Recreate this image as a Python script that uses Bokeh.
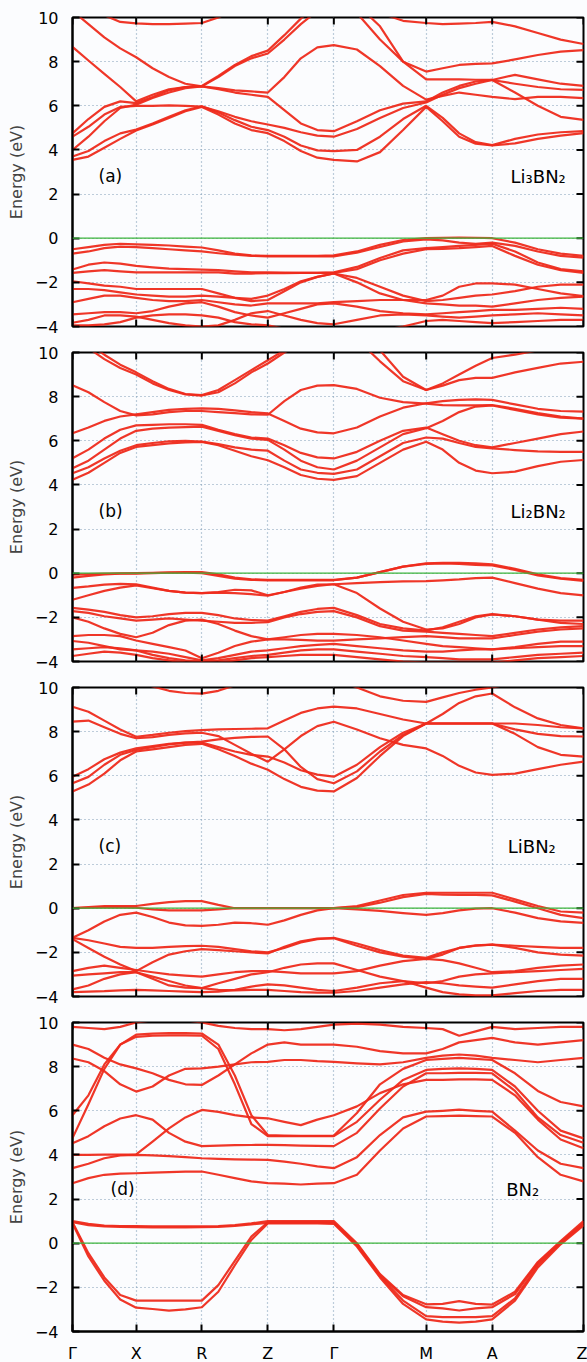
from bokeh.plotting import figure
from bokeh.models import FixedTicker, Span
from bokeh.layouts import column
from bokeh.core.properties import value
from bokeh.embed import file_html
from bokeh.resources import INLINE

# ---------------- data ----------------
K_TICKS = [0, 191, 388, 586, 784, 1061, 1259, 1533]
K_LABELS = ["Γ", "X", "R", "Z", "Γ", "M", "A", "Z"]
E_TICKS = [-4, -2, 0, 2, 4, 6, 8, 10]

# energies (eV) read at the quarter points of every path segment (29 points)
LI3BN2_BANDS = [
    [3.55,3.7,4.1,4.5,4.88, 5.15,5.45,5.75,5.95, 5.6,5.2,4.9,4.76, 4.4,3.95,3.65,3.55, 3.48,3.9,4.9,5.95, 5.3,4.6,4.28,4.2, 4.3,4.5,4.65,4.76],
    [3.7,3.95,4.4,4.75,4.92, 5.2,5.5,5.8,5.98, 5.7,5.35,5.05,4.9, 4.6,4.2,3.98,3.95, 4.0,4.6,5.4,6.0, 5.45,4.75,4.35,4.22, 4.5,4.7,4.8,4.85],
    [4.6,5.05,5.6,5.95,6.0, 6.0,6.02,6.0,5.96, 5.75,5.5,5.3,5.15, 5.0,4.8,4.65,4.6, 4.95,5.45,5.9,6.15, 6.5,6.8,7.0,7.17, 6.6,6.0,5.5,5.36],
    [4.75,5.4,5.95,6.2,6.12, 6.4,6.7,6.85,6.88, 7.3,7.8,8.15,8.37, 9.0,9.7,10.3,10.6, 10.2,9.0,8.0,7.55, 7.7,7.85,7.9,7.92, 8.1,8.3,8.45,8.52],
    [8.67,8.05,7.45,6.85,6.2, 6.5,6.75,6.85,6.9, 7.35,7.85,8.25,8.5, 9.2,9.95,10.6,10.9, 10.6,9.6,8.0,7.2, 7.2,7.2,7.18,7.17, 7.0,6.85,6.75,6.72],
    [10.3,9.7,9.1,8.6,8.2, 7.7,7.3,7.0,6.88, 6.8,6.7,6.65,6.6, 7.3,8.15,8.65,8.75, 8.55,7.8,6.9,6.28, 6.45,6.6,6.5,6.4, 6.3,6.4,6.4,6.35],
    [4.0,4.6,5.3,5.9,6.05, 6.35,6.6,6.8,6.88, 6.75,6.6,6.5,6.4, 5.8,5.2,4.9,4.85, 5.3,5.8,6.1,6.2, 6.6,6.9,7.1,7.17, 7.4,7.2,7.0,6.9],
    [11.0,10.6,10.1,9.8,9.73, 9.7,9.7,9.72,9.75, 10.0,10.4,10.8,11.0, 11.0,11.0,11.0,11.0, 10.7,10.2,9.85,9.75, 9.7,9.72,9.75,9.8, 9.6,9.3,9.0,8.8],
    [-0.5,-0.4,-0.3,-0.25,-0.28, -0.3,-0.33,-0.38,-0.42, -0.55,-0.7,-0.78,-0.8, -0.8,-0.8,-0.8,-0.78, -0.6,-0.3,-0.08,0.0, 0.02,0.03,0.02,0.0, -0.2,-0.5,-0.7,-0.8],
    [-0.7,-0.6,-0.45,-0.38,-0.4, -0.45,-0.5,-0.55,-0.6, -0.68,-0.75,-0.8,-0.82, -0.82,-0.82,-0.82,-0.82, -0.65,-0.4,-0.15,-0.05, -0.1,-0.2,-0.25,-0.2, -0.35,-0.6,-0.8,-0.88],
    [-1.42,-1.2,-1.1,-1.15,-1.25, -1.32,-1.38,-1.4,-1.42, -1.45,-1.5,-1.55,-1.55, -1.56,-1.57,-1.57,-1.55, -1.3,-0.9,-0.55,-0.45, -0.4,-0.35,-0.3,-0.25, -0.6,-1.1,-1.4,-1.5],
    [-1.57,-1.5,-1.45,-1.5,-1.55, -1.55,-1.55,-1.55,-1.55, -1.55,-1.6,-1.6,-1.58, -1.58,-1.57,-1.57,-1.57, -1.4,-1.0,-0.7,-0.5, -0.48,-0.45,-0.4,-0.35, -0.8,-1.2,-1.45,-1.57],
    [-1.95,-2.05,-2.15,-2.2,-2.3, -2.3,-2.3,-2.3,-2.3, -2.5,-2.7,-2.85,-2.8, -2.4,-2.0,-1.75,-1.6, -1.8,-2.2,-2.6,-2.85, -2.8,-2.7,-2.6,-2.55, -2.4,-2.2,-2.1,-2.1],
    [-2.3,-2.3,-2.35,-2.45,-2.55, -2.6,-2.65,-2.65,-2.6, -2.65,-2.7,-2.75,-2.6, -2.3,-1.95,-1.75,-1.6, -2.0,-2.5,-2.8,-2.95, -3.0,-3.05,-3.05,-3.1, -2.95,-2.8,-2.7,-2.65],
    [-2.9,-2.75,-2.6,-2.6,-2.7, -2.8,-2.85,-2.85,-2.8, -2.9,-3.0,-3.05,-2.95, -2.95,-2.95,-2.95,-2.9, -2.85,-2.8,-2.8,-2.8, -2.6,-2.2,-2.05,-2.05, -2.1,-2.3,-2.5,-2.62],
    [-3.45,-3.4,-3.35,-3.35,-3.4, -3.3,-3.1,-2.95,-2.9, -3.1,-3.35,-3.5,-3.6, -3.4,-3.2,-3.0,-2.95, -3.1,-3.3,-3.4,-3.45, -3.4,-3.35,-3.3,-3.25, -3.25,-3.2,-3.15,-3.2],
    [-3.83,-3.7,-3.5,-3.5,-3.55, -3.7,-3.85,-3.95,-4.0, -3.95,-3.7,-3.4,-3.3, -3.5,-3.7,-3.85,-3.9, -3.7,-3.5,-3.45,-3.5, -3.55,-3.6,-3.55,-3.5, -3.45,-3.4,-3.45,-3.5],
    [-3.95,-3.95,-3.9,-3.8,-3.6, -3.5,-3.45,-3.45,-3.5, -3.6,-3.8,-3.9,-3.95, -4.1,-4.2,-4.2,-4.2, -4.2,-4.2,-4.0,-3.75, -3.7,-3.75,-3.8,-3.85, -3.8,-3.75,-3.7,-3.7],
]

LI2BN2_BANDS = [
    [4.23,4.55,5.0,5.45,5.72, 5.8,5.88,5.93,5.95, 5.8,5.55,5.3,5.12, 4.8,4.45,4.28,4.23, 4.4,5.0,5.6,5.96, 5.6,5.0,4.65,4.53, 4.6,4.85,5.05,5.13],
    [4.53,4.8,5.2,5.55,5.8, 5.9,5.98,6.0,5.96, 5.85,5.7,5.6,5.55, 5.1,4.7,4.55,4.5, 4.7,5.3,5.9,6.15, 6.1,5.9,5.72,5.66, 5.58,5.52,5.5,5.5],
    [4.76,5.1,5.6,6.1,6.45, 6.55,6.6,6.62,6.64, 6.45,6.25,6.1,6.04, 5.6,5.1,4.8,4.7, 5.1,5.7,6.3,6.57, 6.9,7.3,7.55,7.6, 7.4,7.2,7.05,7.0],
    [5.21,5.6,6.1,6.5,6.7, 6.72,6.75,6.75,6.72, 6.5,6.3,6.15,6.1, 5.8,5.45,5.25,5.2, 5.5,6.0,6.45,6.6, 6.3,6.0,5.8,5.7, 5.9,6.1,6.3,6.42],
    [6.34,6.6,6.9,7.1,7.2, 7.3,7.4,7.45,7.47, 7.45,7.38,7.3,7.24, 6.9,6.55,6.38,6.34, 6.6,7.1,7.5,7.7, 7.8,7.85,7.88,7.85, 7.65,7.45,7.35,7.32],
    [8.52,8.2,7.75,7.35,7.15, 7.2,7.3,7.35,7.35, 7.3,7.25,7.2,7.18, 7.8,8.3,8.5,8.52, 8.35,7.95,7.75,7.68, 7.62,7.6,7.6,7.62, 7.45,7.25,7.1,7.0],
    [10.6,10.2,9.7,9.3,9.0, 8.6,8.3,8.1,8.05, 8.2,8.6,9.1,9.5, 10.0,10.4,10.7,10.8, 10.6,9.6,8.7,8.3, 8.5,8.75,8.85,8.85, 9.1,9.3,9.5,9.58],
    [10.8,10.4,9.9,9.45,9.1, 8.7,8.35,8.12,8.07, 8.3,8.75,9.2,9.65, 10.1,10.5,10.8,10.9, 10.8,10.1,8.9,8.3, 8.6,9.0,9.4,9.75, 9.9,10.1,10.3,10.4],
    [-0.06,-0.04,-0.02,-0.01,0.0, 0.02,0.04,0.05,0.05, -0.05,-0.2,-0.28,-0.3, -0.3,-0.3,-0.3,-0.3, -0.2,0.05,0.3,0.45, 0.47,0.47,0.45,0.4, 0.2,-0.05,-0.22,-0.3],
    [-0.2,-0.12,-0.05,-0.02,-0.02, 0.0,0.02,0.02,0.0, -0.12,-0.25,-0.3,-0.32, -0.32,-0.32,-0.32,-0.32, -0.2,0.05,0.3,0.42, 0.44,0.42,0.38,0.35, 0.15,-0.1,-0.25,-0.35],
    [-0.66,-0.6,-0.52,-0.48,-0.5, -0.65,-0.8,-0.88,-0.9, -0.85,-0.75,-0.78,-1.0, -0.85,-0.65,-0.52,-0.5, -0.45,-0.4,-0.37,-0.36, -0.32,-0.28,-0.22,-0.2, -0.45,-0.7,-0.9,-1.0],
    [-1.2,-1.0,-0.8,-0.65,-0.55, -0.68,-0.8,-0.88,-0.9, -0.88,-0.9,-0.95,-1.02, -0.85,-0.7,-0.58,-0.5, -0.9,-1.6,-2.2,-2.55, -2.5,-2.3,-2.0,-1.87, -1.95,-2.1,-2.15,-2.15],
    [-1.57,-1.65,-1.75,-1.9,-2.0, -1.95,-1.85,-1.8,-1.8, -1.9,-2.05,-2.12,-2.15, -1.95,-1.75,-1.62,-1.57, -1.9,-2.3,-2.5,-2.6, -2.45,-2.2,-1.95,-1.85, -1.95,-2.1,-2.25,-2.3],
    [-1.72,-1.8,-1.95,-2.05,-2.15, -2.1,-2.05,-2.1,-2.15, -2.2,-2.25,-2.25,-2.22, -2.0,-1.85,-1.75,-1.72, -2.0,-2.4,-2.6,-2.65, -2.7,-2.75,-2.8,-2.85, -2.7,-2.55,-2.45,-2.4],
    [-2.0,-2.2,-2.5,-2.75,-2.9, -2.7,-2.35,-2.15,-2.1, -2.3,-2.6,-2.85,-3.0, -3.0,-3.02,-3.05,-3.05, -3.0,-2.95,-2.9,-2.85, -2.9,-2.95,-2.95,-2.95, -2.8,-2.65,-2.55,-2.5],
    [-2.85,-2.8,-2.8,-2.85,-3.05, -3.2,-3.35,-3.5,-3.85, -3.6,-3.3,-3.1,-3.0, -2.9,-2.8,-2.75,-2.75, -2.8,-2.9,-3.05,-3.2, -3.3,-3.35,-3.4,-3.45, -3.35,-3.2,-3.1,-3.1],
    [-3.07,-3.15,-3.3,-3.45,-3.5, -3.55,-3.65,-3.8,-3.95, -3.85,-3.7,-3.55,-3.5, -3.4,-3.3,-3.25,-3.2, -3.3,-3.4,-3.5,-3.55, -3.55,-3.5,-3.45,-3.45, -3.4,-3.35,-3.3,-3.3],
    [-3.45,-3.4,-3.35,-3.4,-3.5, -3.7,-3.85,-3.95,-4.0, -3.95,-3.85,-3.75,-3.7, -3.6,-3.5,-3.45,-3.45, -3.55,-3.65,-3.75,-3.8, -3.85,-3.9,-3.9,-3.9, -3.8,-3.7,-3.65,-3.6],
    [-3.75,-3.65,-3.55,-3.6,-3.7, -3.85,-3.95,-4.05,-4.1, -4.05,-3.95,-3.85,-3.8, -3.75,-3.7,-3.7,-3.7, -3.8,-3.9,-4.0,-4.05, -4.05,-4.05,-4.05,-4.05, -3.95,-3.85,-3.8,-3.75],
]

LIBN2_BANDS = [
    [5.29,5.6,6.1,6.7,7.1, 7.2,7.3,7.4,7.45, 7.2,6.9,6.55,6.27, 5.85,5.5,5.33,5.29, 5.9,6.9,7.8,8.37, 8.37,8.37,8.37,8.37, 7.9,7.3,6.95,6.87],
    [5.66,5.95,6.5,6.95,7.17, 7.3,7.42,7.5,7.55, 7.65,7.72,7.76,7.78, 7.2,6.4,5.85,5.66, 6.2,7.1,7.85,8.37, 8.8,9.3,9.6,9.73, 9.1,8.6,8.3,8.15],
    [5.96,6.3,6.75,7.05,7.24, 7.35,7.45,7.5,7.5, 7.3,7.1,6.95,6.87, 6.6,6.25,6.05,5.96, 6.5,7.3,7.95,8.37, 8.37,8.37,8.37,8.37, 8.1,7.9,7.8,7.78],
    [8.45,8.5,8.2,7.9,7.7, 7.75,7.85,7.92,7.95, 7.8,7.4,7.0,6.64, 7.2,7.8,8.25,8.45, 8.1,7.7,7.4,7.24, 6.9,6.45,6.15,6.04, 6.1,6.3,6.5,6.64],
    [9.13,8.9,8.5,8.1,7.77, 7.85,7.95,8.02,8.07, 8.1,8.12,8.13,8.15, 8.5,8.85,9.05,9.13, 9.05,8.8,8.55,8.37, 8.37,8.37,8.37,8.37, 8.37,8.3,8.2,8.15],
    [11.0,11.0,11.0,10.6,10.3, 10.05,9.85,9.75,9.72, 9.85,10.1,10.4,10.7, 10.8,10.8,10.6,10.4, 10.0,9.6,9.4,9.35, 9.55,9.75,9.9,10.0, 10.2,10.4,10.6,10.7],
    [0.0,0.05,0.1,0.1,0.1, 0.2,0.28,0.32,0.32, 0.15,0.0,0.0,0.0, 0.0,0.0,0.0,0.0, 0.1,0.35,0.6,0.7, 0.7,0.7,0.7,0.7, 0.4,0.1,-0.15,-0.2],
    [0.0,0.02,0.04,0.04,0.02, -0.05,-0.1,-0.1,-0.1, -0.05,0.0,0.0,0.0, 0.0,0.0,0.0,0.0, 0.05,0.25,0.5,0.65, 0.62,0.6,0.6,0.58, 0.3,0.0,-0.3,-0.45],
    [-1.34,-1.0,-0.6,-0.3,-0.2, -0.4,-0.65,-0.78,-0.8, -0.75,-0.65,-0.68,-0.75, -0.55,-0.3,-0.1,0.0, -0.05,-0.12,-0.22,-0.3, -0.22,-0.1,-0.02,0.0, -0.2,-0.45,-0.6,-0.66],
    [-1.34,-1.45,-1.6,-1.75,-1.8, -1.8,-1.75,-1.72,-1.7, -1.75,-1.85,-1.95,-2.0, -1.8,-1.55,-1.4,-1.34, -1.6,-1.9,-2.15,-2.25, -2.0,-1.8,-1.7,-1.65, -1.7,-1.75,-1.8,-1.8],
    [-1.4,-1.8,-2.2,-2.55,-2.85, -2.45,-2.1,-1.95,-1.85, -1.9,-1.95,-2.0,-2.05, -1.75,-1.5,-1.38,-1.36, -1.7,-2.0,-2.2,-2.3, -2.1,-1.8,-1.68,-1.65, -1.8,-2.0,-2.1,-2.15],
    [-2.85,-2.7,-2.6,-2.7,-2.8, -2.9,-3.0,-3.05,-3.1, -3.0,-2.9,-2.85,-2.85, -2.9,-2.95,-2.95,-2.95, -2.85,-2.6,-2.4,-2.3, -2.35,-2.5,-2.7,-2.9, -2.85,-2.7,-2.6,-2.55],
    [-3.05,-3.0,-2.95,-2.9,-2.9, -3.2,-3.5,-3.6,-3.62, -3.4,-3.2,-3.0,-2.9, -2.7,-2.55,-2.5,-2.5, -2.8,-3.1,-3.3,-3.4, -3.3,-3.1,-3.0,-2.95, -2.9,-2.85,-2.8,-2.75],
    [-3.68,-3.5,-3.2,-3.0,-2.9, -3.1,-3.3,-3.5,-3.62, -3.7,-3.72,-3.7,-3.7, -3.75,-3.8,-3.82,-3.83, -3.75,-3.6,-3.45,-3.35, -3.4,-3.5,-3.55,-3.6, -3.45,-3.3,-3.2,-3.2],
    [-3.8,-3.78,-3.76,-3.72,-3.7, -3.72,-3.75,-3.78,-3.8, -3.78,-3.7,-3.55,-3.45, -3.5,-3.6,-3.7,-3.75, -3.6,-3.4,-3.3,-3.6, -3.8,-3.9,-3.95,-3.95, -3.85,-3.75,-3.7,-3.7],
]

BN2_BANDS = [
    [2.72,2.95,3.1,3.15,3.17, 3.2,3.22,3.24,3.25, 3.1,2.95,2.8,2.72, 2.7,2.66,2.7,2.72, 3.1,4.2,5.2,5.74, 5.76,5.78,5.76,5.74, 5.0,3.9,3.1,2.8],
    [3.4,3.6,3.85,3.98,4.0, 3.98,3.95,3.9,3.85, 3.82,3.8,3.79,3.78, 3.7,3.6,3.48,3.4, 3.9,4.9,5.7,5.96, 6.0,6.05,6.0,5.96, 5.1,4.2,3.6,3.4],
    [4.0,4.0,4.01,4.01,4.02, 4.6,5.2,5.7,6.04, 5.95,5.8,5.7,5.66, 5.5,5.35,5.6,5.8, 6.2,6.8,7.2,7.4, 7.4,7.42,7.42,7.4, 6.7,5.6,4.7,4.3],
    [4.53,4.85,5.3,5.65,5.8, 5.6,5.0,4.6,4.4, 4.42,4.44,4.45,4.46, 4.44,4.42,4.41,4.4, 5.0,6.1,7.1,7.7, 7.7,7.72,7.72,7.7, 6.9,5.7,4.9,4.55],
    [4.76,6.3,7.9,9.0,9.35, 9.4,9.42,9.42,9.4, 8.8,7.2,5.4,4.85, 4.85,4.85,4.85,4.85, 5.5,6.5,7.4,7.85, 7.9,7.92,7.9,7.85, 7.1,6.0,5.1,4.75],
    [5.8,6.7,8.1,9.0,9.45, 9.5,9.52,9.52,9.5, 9.0,7.6,5.8,4.9, 4.88,4.87,4.87,4.88, 5.9,7.2,7.9,8.3, 8.35,8.4,8.35,8.3, 7.7,6.9,6.4,6.2],
    [8.37,8.2,7.8,7.2,6.87, 7.1,7.6,7.9,7.92, 8.0,8.1,8.2,8.22, 8.3,8.3,8.25,8.22, 8.15,8.1,8.2,8.4, 8.5,8.55,8.5,8.4, 8.3,8.2,8.3,8.4],
    [9.0,8.8,8.4,8.1,7.92, 7.7,7.4,7.2,7.17, 7.6,8.1,8.6,9.0, 9.1,9.0,9.0,9.0, 8.9,8.7,8.6,8.6, 8.8,9.1,9.2,9.3, 9.1,9.0,9.1,9.2],
    [9.8,9.75,9.7,9.8,10.0, 10.1,10.2,10.1,10.0, 9.85,9.75,9.7,9.7, 9.65,9.7,9.8,9.9, 9.95,9.9,9.8,9.75, 9.7,9.4,9.6,9.8, 9.7,9.75,9.8,9.8],
    [1.0,0.88,0.8,0.78,0.77, 0.76,0.76,0.76,0.76, 0.78,0.82,0.9,1.0, 1.0,1.0,1.0,1.0, 0.0,-1.4,-2.35,-2.77, -2.75,-2.62,-2.75,-2.78, -2.2,-0.85,0.1,1.0],
    [0.95,0.82,0.76,0.74,0.73, 0.72,0.72,0.72,0.73, 0.74,0.78,0.85,0.92, 0.93,0.93,0.93,0.92, -0.05,-1.45,-2.4,-2.9, -2.95,-3.05,-2.95,-2.9, -2.3,-0.9,0.05,0.92],
    [0.95,-0.45,-1.55,-2.35,-2.6, -2.6,-2.6,-2.6,-2.6, -1.9,-0.8,0.3,0.95, 0.95,0.95,0.95,0.93, -0.1,-1.5,-2.6,-3.3, -3.35,-3.35,-3.35,-3.3, -2.5,-1.0,0.0,0.85],
    [0.9,-0.6,-1.7,-2.55,-2.92, -2.98,-3.05,-3.0,-2.9, -2.2,-1.0,0.15,0.9, 0.9,0.9,0.9,0.88, -0.15,-1.55,-2.75,-3.45, -3.55,-3.6,-3.55,-3.45, -2.6,-1.1,-0.05,0.8],
]

TAGS = ["(a)", "(b)", "(c)", "(d)"]
NAMES = ["Li₃BN₂", "Li₂BN₂", "LiBN₂", "BN₂"]

# ---------------- helpers ----------------
K_GRID = []
for a, b in zip(K_TICKS[:-1], K_TICKS[1:]):
    for j in range(4):
        K_GRID.append(a + (b - a) * j / 4)
K_GRID.append(K_TICKS[-1])

FONT = "DejaVu Sans"
BG = "#fbfcfe"
BAND_COLOR = "#ee2b1c"
FRAME_W, FRAME_H = 511, 309
TICK_PX = 7
E_MIN, E_MAX = -4, 10
K_MAX = K_TICKS[-1]
TICK_E = TICK_PX * (E_MAX - E_MIN) / FRAME_H
TICK_K = TICK_PX * K_MAX / FRAME_W


def style_axis(ax):
    ax.axis_line_width = 2
    ax.axis_line_color = "black"
    ax.major_tick_in = TICK_PX
    ax.major_tick_out = 0
    ax.major_tick_line_width = 2
    ax.major_tick_line_color = "black"
    ax.minor_tick_line_color = None
    ax.major_label_text_font = FONT
    ax.major_label_text_color = "black"
    ax.major_label_text_font_size = "16px"


def make_panel(bands, tag, name, last, tag_x, tag_y, name_x):
    p = figure(
        frame_width=FRAME_W, frame_height=FRAME_H,
        x_range=(0, K_MAX), y_range=(E_MIN, E_MAX),
        output_backend="svg", toolbar_location=None,
        x_axis_location="below" if last else None,
        min_border_left=72, min_border_right=4,
        min_border_top=17, min_border_bottom=31 if last else 9,
        background_fill_color=BG, border_fill_color=BG,
        outline_line_color="black", outline_line_width=2,
    )
    p.yaxis.ticker = FixedTicker(ticks=E_TICKS)
    style_axis(p.yaxis[0])
    p.yaxis.major_label_standoff = 14
    p.yaxis.axis_label = "Energy (eV)"
    p.yaxis.axis_label_text_font = FONT
    p.yaxis.axis_label_text_font_size = "16px"
    p.yaxis.axis_label_text_font_style = "normal"
    p.yaxis.axis_label_standoff = 6
    if last:
        p.xaxis.ticker = FixedTicker(ticks=K_TICKS)
        style_axis(p.xaxis[0])
        p.xaxis.major_label_overrides = {k: lab for k, lab in zip(K_TICKS, K_LABELS)}
        p.xaxis.major_label_standoff = 12

    # grid
    for g in (p.xgrid, p.ygrid):
        g.grid_line_color = "#7f9cb6"
        g.grid_line_dash = "1 3"
        g.grid_line_width = 1.2
    p.xgrid.ticker = FixedTicker(ticks=K_TICKS)
    p.ygrid.ticker = FixedTicker(ticks=E_TICKS)

    # bands
    p.multi_line(xs=[K_GRID] * len(bands), ys=bands,
                 line_color=BAND_COLOR, line_width=2.2, line_alpha=0.95,
                 line_join="round")
    # Fermi level
    p.add_layout(Span(location=0, dimension="width",
                      line_color="#3cb43c", line_width=1.3))

    # inward tick marks on the top, right (and bottom of upper panels)
    nk, ne = len(K_TICKS), len(E_TICKS)
    p.segment(x0=K_TICKS, y0=[E_MAX] * nk, x1=K_TICKS, y1=[E_MAX - TICK_E] * nk,
              line_color="black", line_width=2)
    p.segment(x0=[K_MAX] * ne, y0=E_TICKS, x1=[K_MAX - TICK_K] * ne, y1=E_TICKS,
              line_color="black", line_width=2)
    if not last:
        p.segment(x0=K_TICKS, y0=[E_MIN] * nk, x1=K_TICKS, y1=[E_MIN + TICK_E] * nk,
                  line_color="black", line_width=2)

    # labels
    p.text(x=[tag_x], y=[tag_y], text=[tag], text_font=value(FONT),
           text_font_size="17px", text_baseline="middle", text_align="left",
           text_color="black")
    p.text(x=[name_x], y=[tag_y], text=[name], text_font=value(FONT),
           text_font_size="18px", text_baseline="middle", text_align="right",
           text_color="black")
    return p


panels = []
bands_list = [LI3BN2_BANDS, LI2BN2_BANDS, LIBN2_BANDS, BN2_BANDS]
tag_x = [78, 78, 78, 114]
tag_y = [2.8, 2.8, 2.8, 2.45]
name_x = [1480, 1480, 1450, 1400]
for i in range(4):
    panels.append(make_panel(bands_list[i], TAGS[i], NAMES[i], i == 3,
                             tag_x[i], tag_y[i], name_x[i]))

layout = column(*panels, spacing=0)
layout.styles = {"background-color": BG}
open("out.html", "w").write(file_html(layout, INLINE))
